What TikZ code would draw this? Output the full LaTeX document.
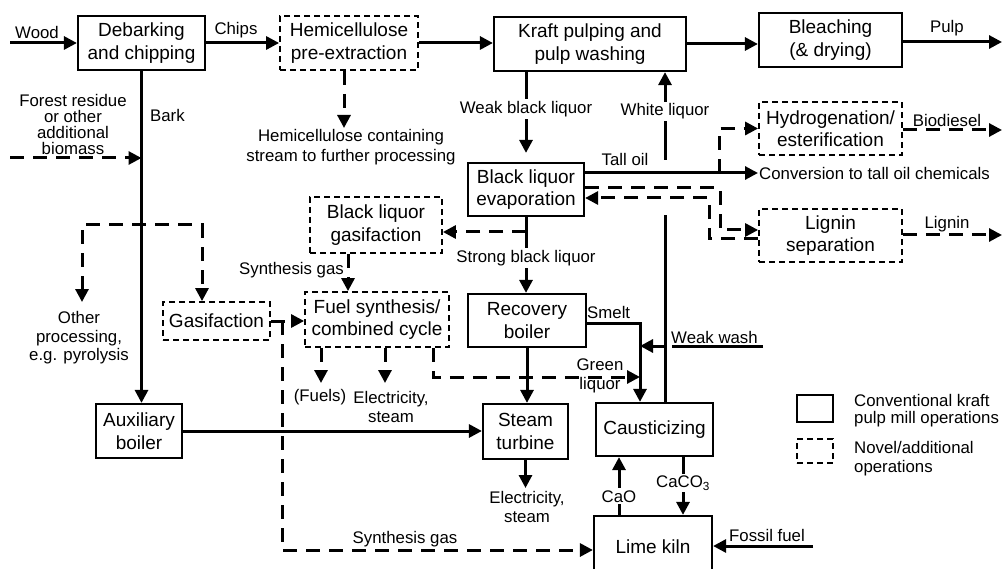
\documentclass[tikz,border=0pt]{standalone}
\usepackage{fontspec}
\setmainfont{Liberation Sans}
\usetikzlibrary{arrows.meta}
% font size with a chosen line spacing
\newcommand\txt[2]{\fontsize{#1}{#2}\selectfont}

\begin{document}
\begin{tikzpicture}[x=1pt,y=-1pt,
  >={Triangle[length=13pt,width=13pt]},
  every node/.style={font=\txt{16.8}{19}, align=center, inner sep=1pt},
  box/.style={draw, line width=2.2pt, inner sep=0pt, font=\txt{19}{22.5}},
  nbox/.style={box, line width=1.8pt, dash pattern=on 6pt off 4pt},
  line/.style={line width=3pt},
  dline/.style={line width=3pt, dash pattern=on 14pt off 9pt},
  lab/.style={fill=white, inner sep=2pt}
]
\useasboundingbox (0,0) rectangle (1003,569);

% ---------- process units ----------
\node[box,  minimum width=127pt, minimum height=54pt] (deb)    at (141.5,43)   {Debarking\\and chipping};
\node[nbox, minimum width=138pt, minimum height=54pt] (hemi)   at (349,43)     {Hemicellulose\\pre-extraction};
\node[box,  minimum width=192pt, minimum height=54pt] (kraft)  at (590,44)     {Kraft pulping and\\pulp washing};
\node[box,  minimum width=143pt, minimum height=54pt] (bleach) at (830.5,40)   {Bleaching\\(\& drying)};
\node[nbox, minimum width=143pt, minimum height=53pt] (hydro)  at (830.5,128.5){Hydrogenation/\\esterification};
\node[box,  minimum width=116pt, minimum height=53pt] (evap)   at (526,189.5)  {Black liquor\\evaporation};
\node[nbox, minimum width=143pt, minimum height=53pt] (lignin) at (830.5,235.5){Lignin\\separation};
\node[nbox, minimum width=132pt, minimum height=56pt] (blg)    at (376,225)    {Black liquor\\gasifaction};
\node[nbox, minimum width=144pt, minimum height=55pt] (fuel)   at (377,319.5)  {Fuel synthesis/\\combined cycle};
\node[nbox, minimum width=107pt, minimum height=38pt] (gasif)  at (216.5,321)  {Gasifaction};
\node[box,  minimum width=118pt, minimum height=53pt] (rec)    at (527,320.5)  {Recovery\\boiler};
\node[box,  minimum width=86pt,  minimum height=54pt] (aux)    at (139,431)    {Auxiliary\\boiler};
\node[box,  minimum width=85pt,  minimum height=55pt] (turb)   at (525.5,431.5){Steam\\turbine};
\node[box,  minimum width=117pt, minimum height=53pt] (caust)  at (654.5,429.5){Causticizing};
\node[box,  minimum width=118pt, minimum height=62pt] (kiln)   at (653,547)    {Lime kiln};

% ---------- helper points ----------
\coordinate (woodin) at (10,43);
\coordinate (pulpout) at (1002,42);
\coordinate (hcs) at (344,128);
\coordinate (wlx) at (665,0);
\coordinate (wlA) at (665,215);
\coordinate (wlB) at (665,160);
\coordinate (hyA) at (719,173);
\coordinate (bdout) at (1002,130);
\coordinate (lgA) at (720,188);
\coordinate (lgB) at (720,230);
\coordinate (lrA) at (709,239);
\coordinate (lrB) at (709,198);
\coordinate (lgout) at (1002,235);
\coordinate (blgA) at (526,232);
\coordinate (sgx) at (348,0);
\coordinate (skA) at (282,550);
\coordinate (frin) at (10,158);
\coordinate (opA) at (82,302);
\coordinate (opB) at (202,225);
\coordinate (tout) at (526,488);
\coordinate (smA) at (640,323);
\coordinate (wwin) at (763,346);
\coordinate (wwgap) at (672,346);
\coordinate (glx) at (433,377);
\coordinate (fo1) at (321,383);
\coordinate (fo2) at (385,383);
\coordinate (caox) at (619,0);
\coordinate (cacx) at (683,0);
\coordinate (ffin) at (813,546);

% ---------- fibre line ----------
\draw[line,->] (woodin) -- (deb.west);
\node (lwood) at (37,32) {Wood};
\draw[line,->] (deb.east) -- (hemi.west);
\node (lchips) at (236,30) {Chips};
\draw[line,->] (hemi.east) -- (hemi.east -| kraft.west);
\draw[line,->] (kraft.east) -- (kraft.east -| bleach.west);
\draw[line,->] (bleach.east |- pulpout) -- (pulpout);
\node (lpulp) at (947,28) {Pulp};

\draw[dline,->] (hemi.south -| hcs) -- (hcs);
\node[font=\txt{16.8}{20}] (lhcs) at (351,147) {Hemicellulose containing\\stream to further processing};

% ---------- liquor cycle ----------
\draw[line,->,shorten >=9pt] (kraft.south -| evap.north) -- (evap.north)
  node[lab,pos=0.41] (lwbl) {Weak black liquor};
\draw[line] (caust.north -| wlx) -- (wlA);
\draw[line,->] (wlB) -- (kraft.south -| wlx) node[lab,pos=0.55] (lwl) {White liquor};

\node[anchor=west] (conv) at (758,173) {Conversion to tall oil chemicals};
\draw[line,->] (evap.east |- conv.west) -- (conv.west);
\node (ltall) at (625,159) {Tall oil};
\draw[dline,->] (hyA) |- (hydro.west);
\draw[dline,->] (hydro.east |- bdout) -- (bdout);
\node (lbd) at (947,120) {Biodiesel};

\draw[dline,->] (evap.east |- lgA) -- (lgA) -- (lgB) -- (lgB -| lignin.west);
\draw[dline,->] (lignin.west |- lrA) -- (lrA) -- (lrB) -- (lrB -| evap.east);
\draw[dline,->] (lignin.east |- lgout) -- (lgout);
\node (llig) at (947,224) {Lignin};

\draw[line,->] (evap.south) -- (evap.south |- rec.north)
  node[lab,pos=0.54] (lsbl) {Strong black liquor};
\draw[dline,->] (blgA) -- (blgA -| blg.east);
\draw[dline,->] (blg.south -| sgx) -- (fuel.north -| sgx);
\node[anchor=east] (lsg1) at (345,270) {Synthesis gas};

\draw[dline,->] (gasif.east) -- (gasif.east -| fuel.west);
\draw[dline,->] (gasif.east -| skA) -- (skA) -- (skA -| kiln.west);
\node (lsg2) at (405,539) {Synthesis gas};

% ---------- bark and biomass ----------
\draw[line,->] (deb.south) -- (deb.south |- aux.north);
\node[anchor=west] (lbark) at (149,115) {Bark};
\draw[dline,->] (frin) -- (frin -| deb.south);
\node[font=\txt{16.8}{16}] (lfr) at (73,124) {Forest residue\\or other\\additional\\biomass};
\draw[dline,<->] (opA) |- (opB) -- (opB |- gasif.north);
\node[font=\txt{16.8}{18.5}] (lop) at (79,338) {Other\\processing,\\e.g. pyrolysis};

% ---------- power ----------
\draw[line,->] (aux.east) -- (aux.east -| turb.west);
\draw[line,->] (turb.south) -- (turb.south |- tout);
\node (lel1) at (527,507) {Electricity,\\steam};
\draw[line,->] (rec.south) -- (rec.south |- turb.north);

% ---------- recausticizing ----------
\draw[line,->] (smA -| rec.east) -- (smA) -- (smA |- caust.north);
\node[anchor=west] (lsmelt) at (586,312) {Smelt};
\draw[line] (wwin) -- (wwgap);
\draw[line,->] (wwin -| wlx) -- (wwin -| smA);
\node[anchor=south west] (lww) at (670,345) {Weak wash};
\draw[dline,->] (fuel.south -| glx) -- (glx) -- (glx -| smA);
\node (lgl) at (600,376) {Green\\liquor};
\draw[dline,->] (fuel.south -| fo1) -- (fo1);
\draw[dline,->] (fuel.south -| fo2) -- (fo2);
\node (lfuels) at (320,397) {(Fuels)};
\node (lel2) at (391,407) {Electricity,\\steam};

\draw[line,->] (kiln.north -| caox) -- (caust.south -| caox) node[lab,pos=0.32] (lcao) {CaO};
\draw[line,->] (caust.south -| cacx) -- (kiln.north -| cacx) node[lab,pos=0.45] (lcac) {CaCO\textsubscript{3}};
\draw[line,->] (ffin) -- (ffin -| kiln.east);
\node (lff) at (767,535) {Fossil fuel};

% ---------- legend ----------
\node[box,  minimum width=36pt, minimum height=27pt] (legc) at (815,408.5) {};
\node[nbox, minimum width=36pt, minimum height=24pt] (legn) at (815,451) {};
\node[anchor=west, align=left, font=\txt{16.8}{17}] (llc) at (853,411) {Conventional kraft\\pulp mill operations};
\node[anchor=west, align=left, font=\txt{16.8}{19}] (lln) at (853,458.5) {Novel/additional\\operations};
\end{tikzpicture}
\end{document}
